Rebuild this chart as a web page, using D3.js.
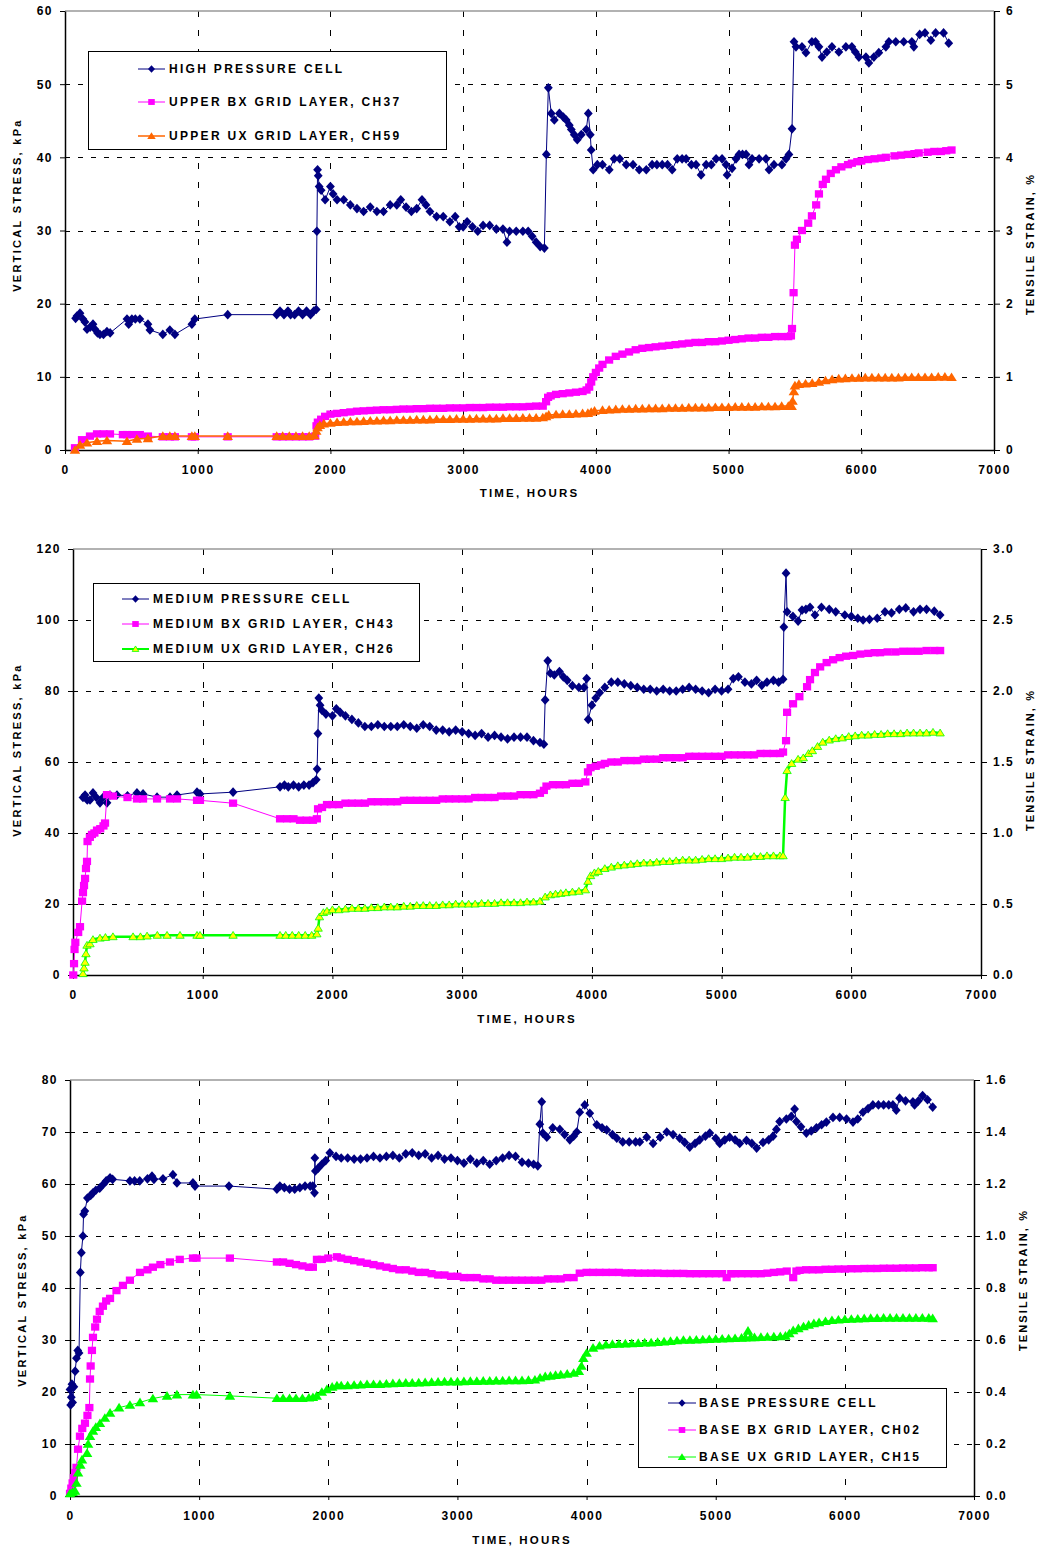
<!DOCTYPE html>
<html>
<head>
<meta charset="utf-8">
<script src="https://cdn.jsdelivr.net/npm/d3@7"></script>
<style>
body { margin: 0; background: #fff; }
svg text { font-family: "Liberation Sans", Arial, sans-serif; font-weight: bold; fill: #000; }
</style>
</head>
<body>
<svg id="chart" width="1039" height="1548"></svg>
<script>
// ---- data: [hours, value]; pressure cells in kPa, grid layers in % strain ----
const hourTicks = [0, 1000, 2000, 3000, 4000, 5000, 6000, 7000];

const stressTicks1 = [0, 10, 20, 30, 40, 50, 60];
const strainTicks1 = [0, 1, 2, 3, 4, 5, 6];
const stressTicks2 = [0, 20, 40, 60, 80, 100, 120];
const strainTicks2 = [0, 0.5, 1.0, 1.5, 2.0, 2.5, 3.0];
const stressTicks3 = [0, 10, 20, 30, 40, 50, 60, 70, 80];
const strainTicks3 = [0, 0.2, 0.4, 0.6, 0.8, 1.0, 1.2, 1.4, 1.6];

const legend1 = ["HIGH PRESSURE CELL", "UPPER BX GRID LAYER, CH37", "UPPER UX GRID LAYER, CH59"];
const legend2 = ["MEDIUM PRESSURE CELL", "MEDIUM BX GRID LAYER, CH43", "MEDIUM UX GRID LAYER, CH26"];
const legend3 = ["BASE PRESSURE CELL", "BASE BX GRID LAYER, CH02", "BASE UX GRID LAYER, CH15"];

const highCell = [[80,18.0],[90,18.3],[113,18.7],[135,17.9],[150,17.5],[166,16.5],[190,16.8],[211,17.2],[226,16.5],[245,16.0],[263,15.8],[290,15.8],[316,16.2],[340,16.0],
[467,17.9],[480,17.2],[504,17.9],[530,17.9],[564,17.9],[625,17.2],[640,16.4],[737,15.8],[790,16.4],[828,15.8],[956,17.2],[978,17.9],[1226,18.5],
[1595,18.5],[1620,19.0],[1650,18.5],[1680,19.0],[1700,18.5],[1730,18.5],[1760,19.0],[1790,18.5],[1820,19.0],[1850,18.5],[1875,19.0],[1893,19.2],
[1898,29.9],[1903,38.3],[1908,37.5],[1915,36.0],[1930,35.5],[1960,34.2],[2000,36.0],[2020,35.0],[2050,34.2],[2100,34.2],[2150,33.5],[2200,33.0],[2250,32.6],[2300,33.2],[2350,32.6],[2400,32.6],[2450,33.5],[2500,33.5],[2530,34.2],[2570,33.2],[2610,32.6],[2650,33.0],[2690,34.2],[2720,33.5],[2750,32.6],[2800,31.9],[2850,31.9],[2900,31.2],[2940,31.9],[2970,30.5],[3000,30.5],[3030,31.2],[3070,30.5],[3110,29.9],[3150,30.7],[3200,30.7],[3250,30.2],[3300,30.2],[3330,28.4],[3350,29.9],[3400,29.9],[3450,29.9],[3490,29.9],[3520,29.2],[3550,28.4],[3580,27.8],[3612,27.6],
[3627,40.4],[3642,49.5],[3664,46.0],[3687,45.1],[3725,46.0],[3755,45.5],[3777,45.1],[3800,44.4],[3815,43.8],[3837,43.1],[3860,42.4],[3890,43.1],[3928,43.8],[3943,46.0],[3958,43.1],[3965,41.0],[3980,38.3],[4011,39.0],[4050,39.0],[4101,38.3],[4138,39.8],[4180,39.8],[4229,39.0],[4280,39.0],[4327,38.3],[4380,38.3],[4424,39.0],[4460,39.0],[4500,39.0],[4540,39.0],[4575,38.3],[4613,39.8],[4650,39.8],[4680,39.8],[4720,39.0],[4755,39.0],[4793,37.6],[4831,39.0],[4870,39.0],[4906,39.8],[4951,39.8],[4981,39.0],[4989,37.6],[5026,38.5],[5056,39.8],[5079,40.4],[5105,40.4],[5132,40.4],[5154,39.0],[5177,39.8],[5230,39.8],[5282,39.8],[5305,38.3],[5342,39.0],[5402,39.0],[5433,39.8],[5455,40.4],
[5478,43.9],[5493,55.8],[5508,55.1],[5553,55.1],[5583,54.3],[5628,55.8],[5655,55.8],[5681,55.1],[5704,53.7],[5740,54.4],[5779,55.1],[5831,54.4],[5884,55.1],[5929,55.1],[5955,54.4],[5982,53.7],[6035,53.7],[6057,52.9],[6095,53.7],[6132,54.3],[6185,55.1],[6208,55.8],[6260,55.8],[6320,55.8],[6381,55.8],[6396,55.1],[6440,56.8],[6480,57.0],[6524,56.0],[6560,57.0],[6620,57.0],[6659,55.6]];

const upperBx = [[75,0.03],[128,0.14],[188,0.19],[241,0.22],[290,0.22],[339,0.22],[436,0.21],[467,0.21],[504,0.21],[564,0.21],[625,0.19],[737,0.18],[790,0.18],[828,0.18],[956,0.18],[978,0.18],[1226,0.18],
[1595,0.18],[1640,0.18],[1690,0.18],[1740,0.18],[1790,0.18],[1840,0.18],[1885,0.19],[1895,0.33],[1905,0.38],[1930,0.42],[1960,0.46],[2000,0.49],[2050,0.5],[2100,0.51],[2150,0.52],[2200,0.53],[2250,0.535],[2300,0.54],[2350,0.545],[2400,0.55],[2450,0.55],[2500,0.555],[2550,0.56],[2600,0.56],[2650,0.565],[2700,0.565],[2750,0.57],[2800,0.57],[2850,0.57],[2900,0.575],[2950,0.575],[3000,0.575],[3050,0.58],[3100,0.58],[3150,0.58],[3200,0.585],[3250,0.585],[3300,0.585],[3350,0.59],[3400,0.59],[3450,0.59],[3500,0.595],[3550,0.6],[3600,0.6],
[3625,0.66],[3640,0.72],[3660,0.74],[3700,0.76],[3750,0.77],[3800,0.78],[3850,0.79],[3900,0.8],[3930,0.82],[3950,0.86],[3965,0.93],[3980,1.0],[4000,1.06],[4025,1.12],[4050,1.17],[4100,1.23],[4150,1.28],[4200,1.31],[4250,1.34],[4300,1.37],[4350,1.39],[4400,1.4],[4450,1.41],[4500,1.42],[4550,1.43],[4600,1.44],[4650,1.45],[4700,1.46],[4750,1.47],[4800,1.47],[4850,1.48],[4900,1.48],[4950,1.49],[5000,1.5],[5050,1.51],[5100,1.52],[5150,1.53],[5200,1.53],[5250,1.54],[5300,1.54],[5350,1.55],[5400,1.55],[5450,1.55],[5470,1.56],
[5478,1.66],[5490,2.15],[5500,2.8],[5515,2.88],[5553,3.0],[5600,3.1],[5628,3.2],[5660,3.35],[5681,3.5],[5710,3.63],[5734,3.7],[5770,3.78],[5809,3.83],[5850,3.87],[5900,3.9],[5929,3.92],[5970,3.94],[6000,3.95],[6050,3.97],[6100,3.98],[6150,3.99],[6185,4.0],[6250,4.02],[6300,4.03],[6350,4.04],[6400,4.05],[6433,4.06],[6500,4.07],[6550,4.08],[6600,4.08],[6640,4.09],[6680,4.1]];

const upperUx = [[75,0.0],[113,0.07],[166,0.1],[241,0.12],[316,0.13],[467,0.12],[542,0.15],[625,0.16],[737,0.19],[790,0.19],[828,0.19],[956,0.19],[978,0.19],[1226,0.19],
[1595,0.19],[1640,0.19],[1690,0.19],[1740,0.19],[1790,0.19],[1840,0.19],[1880,0.2],[1893,0.26],[1903,0.31],[1920,0.34],[1950,0.36],[2000,0.37],[2050,0.38],[2100,0.385],[2150,0.39],[2200,0.39],[2250,0.395],[2300,0.4],[2350,0.4],[2400,0.405],[2450,0.405],[2500,0.41],[2550,0.41],[2600,0.41],[2650,0.415],[2700,0.415],[2750,0.415],[2800,0.42],[2850,0.42],[2900,0.42],[2950,0.425],[3000,0.425],[3050,0.425],[3100,0.43],[3150,0.43],[3200,0.43],[3250,0.43],[3300,0.435],[3350,0.435],[3400,0.435],[3450,0.44],[3500,0.44],[3550,0.44],[3600,0.445],
[3625,0.46],[3645,0.48],[3700,0.485],[3750,0.49],[3800,0.49],[3850,0.495],[3900,0.5],[3940,0.505],[3965,0.52],[3990,0.535],[4050,0.545],[4100,0.55],[4150,0.555],[4200,0.56],[4250,0.56],[4300,0.565],[4350,0.565],[4400,0.57],[4450,0.57],[4500,0.57],[4550,0.575],[4600,0.575],[4650,0.575],[4700,0.58],[4750,0.58],[4800,0.58],[4850,0.58],[4900,0.585],[4950,0.585],[5000,0.585],[5050,0.59],[5100,0.59],[5150,0.59],[5200,0.59],[5250,0.595],[5300,0.595],[5350,0.595],[5400,0.6],[5450,0.6],[5475,0.6],
[5482,0.67],[5492,0.8],[5500,0.88],[5530,0.9],[5580,0.905],[5630,0.915],[5680,0.93],[5730,0.95],[5780,0.965],[5830,0.975],[5880,0.98],[5930,0.985],[5980,0.985],[6030,0.99],[6080,0.99],[6130,0.99],[6180,0.99],[6230,0.99],[6280,0.99],[6330,0.995],[6380,0.995],[6430,0.995],[6480,0.995],[6530,0.995],[6580,1.0],[6630,1.0],[6680,0.995]];

const mediumCell = [[77,50.0],[93,50.7],[110,49.3],[131,49.3],[154,51.3],[180,50.0],[208,48.5],[231,50.0],[262,48.5],[285,50.7],[339,50.7],[420,50.5],[493,51.3],[540,51.0],[648,50.1],[748,50.1],[802,50.7],[956,51.5],[979,51.0],[1234,51.5],
[1596,53.0],[1630,53.5],[1660,53.0],[1700,53.5],[1740,53.0],[1780,53.5],[1820,53.5],[1850,54.2],[1875,55.0],[1882,58.0],[1888,68.0],[1895,78.0],[1905,76.0],[1920,74.5],[1950,73.5],[2000,73.0],[2030,75.0],[2060,74.0],[2100,73.0],[2150,72.0],[2200,71.0],[2250,70.0],[2300,70.0],[2350,70.5],[2400,70.0],[2450,70.0],[2500,70.0],[2550,70.5],[2600,70.0],[2650,69.5],[2700,70.5],[2750,70.0],[2800,69.0],[2850,69.0],[2900,68.5],[2950,69.0],[3000,68.5],[3050,68.0],[3100,67.5],[3150,68.0],[3200,67.0],[3250,67.5],[3300,67.0],[3350,66.5],[3400,67.0],[3450,67.0],[3500,67.0],[3550,66.0],[3600,65.5],[3630,65.0],
[3640,77.5],[3660,88.5],[3680,85.0],[3710,84.5],[3750,85.5],[3780,84.0],[3810,83.0],[3850,81.5],[3900,81.0],[3940,81.0],[3960,83.5],[3972,72.0],[4000,76.0],[4030,78.0],[4060,79.5],[4100,81.0],[4150,82.5],[4200,82.5],[4250,82.0],[4300,81.5],[4350,81.0],[4400,80.5],[4450,80.5],[4500,80.0],[4550,80.5],[4600,80.0],[4650,80.0],[4700,80.5],[4750,81.0],[4800,80.5],[4850,80.0],[4900,79.5],[4950,80.5],[5000,80.0],[5050,80.5],[5090,83.5],[5130,84.0],[5180,82.5],[5230,82.0],[5270,83.0],[5310,81.6],[5350,82.5],[5400,83.0],[5440,82.5],[5474,83.3],
[5480,98.0],[5497,113.2],[5505,102.3],[5550,101.0],[5590,99.7],[5620,102.8],[5650,103.0],[5682,103.6],[5720,101.4],[5770,103.6],[5830,103.0],[5880,102.3],[5950,101.4],[6000,101.0],[6050,100.5],[6091,100.0],[6140,100.2],[6200,100.5],[6260,102.3],[6310,102.0],[6370,103.0],[6420,103.4],[6480,102.3],[6530,103.0],[6580,103.0],[6640,102.5],[6685,101.4]];

const mediumBx = [[2,0.0],[8,0.08],[12,0.18],[18,0.23],[40,0.3],[54,0.34],[70,0.52],[77,0.58],[85,0.63],[93,0.68],[100,0.75],[108,0.8],[112,0.94],[130,0.97],[146,0.99],[165,1.0],[185,1.02],[210,1.03],[235,1.05],[247,1.07],[262,1.27],[308,1.26],[420,1.25],[493,1.24],[540,1.24],[648,1.24],[748,1.24],[802,1.24],[956,1.23],[979,1.23],[1234,1.21],
[1596,1.1],[1650,1.1],[1700,1.1],[1750,1.09],[1800,1.09],[1850,1.09],[1880,1.1],[1889,1.17],[1920,1.18],[1958,1.2],[2000,1.2],[2050,1.2],[2100,1.21],[2150,1.21],[2200,1.21],[2250,1.21],[2300,1.22],[2350,1.22],[2400,1.22],[2450,1.22],[2500,1.22],[2550,1.23],[2600,1.23],[2650,1.23],[2700,1.23],[2750,1.23],[2800,1.23],[2850,1.24],[2900,1.24],[2950,1.24],[3000,1.24],[3050,1.24],[3100,1.25],[3150,1.25],[3200,1.25],[3250,1.25],[3300,1.26],[3350,1.26],[3400,1.26],[3450,1.27],[3500,1.27],[3550,1.27],[3600,1.28],
[3630,1.3],[3650,1.33],[3700,1.34],[3750,1.34],[3800,1.34],[3850,1.35],[3900,1.35],[3950,1.36],[3970,1.43],[3990,1.46],[4030,1.47],[4070,1.48],[4100,1.49],[4150,1.5],[4200,1.5],[4250,1.51],[4300,1.51],[4350,1.51],[4400,1.52],[4450,1.52],[4500,1.52],[4550,1.53],[4600,1.53],[4650,1.53],[4700,1.53],[4750,1.54],[4800,1.54],[4850,1.54],[4900,1.54],[4950,1.54],[5000,1.54],[5050,1.55],[5100,1.55],[5150,1.55],[5200,1.55],[5250,1.55],[5300,1.56],[5350,1.56],[5400,1.56],[5450,1.56],[5474,1.57],
[5497,1.65],[5505,1.85],[5551,1.91],[5600,1.96],[5659,2.03],[5682,2.08],[5720,2.13],[5760,2.17],[5810,2.2],[5860,2.22],[5910,2.235],[5960,2.245],[6014,2.25],[6070,2.26],[6130,2.265],[6180,2.27],[6222,2.27],[6280,2.275],[6340,2.275],[6400,2.28],[6460,2.28],[6520,2.28],[6580,2.285],[6640,2.285],[6685,2.285]];

const mediumUx = [[77,0.01],[85,0.05],[93,0.09],[100,0.15],[108,0.21],[131,0.22],[154,0.25],[208,0.26],[250,0.265],[308,0.27],[463,0.27],[520,0.27],[571,0.275],[650,0.28],[725,0.28],[825,0.28],[956,0.28],[979,0.28],[1234,0.28],
[1596,0.28],[1640,0.28],[1690,0.28],[1740,0.28],[1790,0.28],[1840,0.28],[1880,0.29],[1890,0.33],[1900,0.41],[1930,0.44],[1958,0.45],[2000,0.46],[2050,0.46],[2100,0.465],[2150,0.47],[2200,0.47],[2250,0.47],[2300,0.475],[2350,0.475],[2400,0.48],[2450,0.48],[2500,0.48],[2550,0.485],[2600,0.485],[2650,0.49],[2700,0.49],[2750,0.49],[2800,0.49],[2850,0.495],[2900,0.495],[2950,0.5],[3000,0.5],[3050,0.5],[3100,0.5],[3150,0.505],[3200,0.505],[3250,0.505],[3300,0.51],[3350,0.51],[3400,0.51],[3450,0.51],[3500,0.515],[3550,0.515],[3600,0.52],
[3640,0.55],[3680,0.565],[3720,0.57],[3760,0.575],[3800,0.58],[3850,0.585],[3900,0.59],[3950,0.6],[3970,0.66],[3990,0.7],[4020,0.72],[4050,0.73],[4100,0.75],[4150,0.76],[4200,0.77],[4250,0.775],[4300,0.78],[4350,0.785],[4400,0.79],[4450,0.79],[4500,0.795],[4550,0.8],[4600,0.8],[4650,0.805],[4700,0.81],[4750,0.81],[4800,0.81],[4850,0.815],[4900,0.82],[4950,0.82],[5000,0.82],[5050,0.825],[5100,0.83],[5150,0.83],[5200,0.83],[5250,0.835],[5300,0.835],[5350,0.84],[5400,0.84],[5450,0.84],[5474,0.84],
[5490,1.25],[5505,1.44],[5540,1.49],[5590,1.52],[5630,1.53],[5670,1.56],[5700,1.58],[5740,1.61],[5780,1.64],[5830,1.655],[5880,1.665],[5930,1.67],[5980,1.68],[6030,1.685],[6080,1.69],[6130,1.69],[6180,1.695],[6230,1.695],[6280,1.7],[6330,1.7],[6380,1.7],[6430,1.705],[6480,1.705],[6530,1.705],[6580,1.705],[6630,1.71],[6685,1.705]];

const baseCell = [[0,20.5],[5,17.5],[10,19.0],[15,21.5],[20,18.0],[30,21.0],[40,24.0],[50,26.5],[60,28.0],[70,27.5],[80,43.0],[88,46.8],[100,50.0],[105,54.2],[115,54.8],[135,57.3],[160,57.8],[178,58.3],[200,58.8],[230,59.2],[260,60.0],[280,60.6],[310,61.2],[330,60.9],[464,60.6],[500,60.6],[540,60.6],[600,61.0],[635,61.5],[650,60.9],[720,61.0],[797,61.8],[828,60.2],[952,60.2],[968,59.6],[1231,59.6],
[1602,59.0],[1625,59.6],[1660,59.3],[1700,59.0],[1740,59.0],[1780,59.3],[1820,59.6],[1860,59.6],[1880,59.6],[1893,58.3],[1896,65.0],[1900,62.5],[1920,63.0],[1950,63.8],[1980,64.5],[2012,66.0],[2060,65.3],[2100,65.0],[2150,65.0],[2200,64.8],[2250,64.8],[2300,65.0],[2350,65.3],[2400,65.0],[2450,65.3],[2500,65.5],[2550,65.0],[2600,65.8],[2650,66.0],[2700,65.5],[2750,65.8],[2800,65.0],[2850,65.5],[2900,64.8],[2950,65.0],[3000,64.5],[3050,64.0],[3100,64.8],[3150,64.0],[3200,64.5],[3250,63.8],[3300,64.5],[3350,65.0],[3400,65.5],[3450,65.3],[3500,64.2],[3550,64.0],[3590,63.8],[3622,63.5],
[3638,71.5],[3653,75.8],[3661,69.8],[3692,69.0],[3738,70.8],[3793,70.5],[3830,69.5],[3870,68.5],[3900,69.2],[3924,70.0],[3947,73.8],[3986,75.2],[4025,73.6],[4079,71.4],[4120,70.8],[4156,70.4],[4200,69.5],[4234,68.8],[4280,68.1],[4330,68.1],[4380,68.1],[4412,68.1],[4466,69.0],[4515,67.8],[4570,69.0],[4621,70.0],[4670,69.5],[4721,68.8],[4760,68.0],[4799,67.1],[4840,67.8],[4876,68.5],[4920,69.2],[4954,69.8],[5000,68.8],[5031,67.8],[5070,68.5],[5108,69.0],[5150,68.5],[5186,67.8],[5238,68.4],[5280,67.8],[5317,66.9],[5366,68.0],[5410,68.5],[5444,69.2],[5470,70.5],
[5495,72.0],[5547,72.5],[5585,73.0],[5611,74.4],[5625,72.0],[5660,71.0],[5702,69.8],[5740,70.2],[5780,70.8],[5820,71.4],[5857,71.9],[5908,72.8],[5960,72.8],[6013,72.5],[6063,71.9],[6100,72.5],[6140,73.8],[6180,74.5],[6217,75.2],[6260,75.2],[6300,75.2],[6340,75.2],[6372,75.2],[6398,74.2],[6424,76.5],[6470,76.0],[6527,75.8],[6540,75.2],[6570,76.0],[6602,77.0],[6640,76.2],[6680,74.8]];

const baseBx = [[0,0.01],[10,0.03],[20,0.05],[30,0.07],[40,0.09],[50,0.11],[62,0.18],[77,0.23],[95,0.26],[116,0.28],[135,0.31],[150,0.34],[155,0.45],[160,0.5],[170,0.56],[178,0.61],[195,0.65],[209,0.68],[230,0.71],[255,0.73],[280,0.75],[310,0.76],[360,0.79],[410,0.81],[464,0.83],[542,0.86],[600,0.87],[642,0.88],[700,0.89],[774,0.9],[850,0.91],[952,0.915],[980,0.915],[1238,0.915],
[1602,0.9],[1650,0.9],[1700,0.895],[1750,0.89],[1800,0.885],[1850,0.88],[1881,0.88],[1912,0.91],[1950,0.91],[2000,0.915],[2067,0.92],[2100,0.915],[2150,0.91],[2200,0.905],[2250,0.9],[2300,0.895],[2350,0.89],[2400,0.885],[2450,0.88],[2500,0.875],[2550,0.87],[2600,0.87],[2650,0.865],[2700,0.86],[2750,0.86],[2800,0.855],[2850,0.85],[2900,0.85],[2950,0.845],[3000,0.845],[3050,0.84],[3100,0.84],[3150,0.84],[3200,0.835],[3250,0.835],[3300,0.83],[3350,0.83],[3400,0.83],[3450,0.83],[3500,0.83],[3550,0.83],[3600,0.83],[3650,0.83],[3700,0.835],[3750,0.835],[3800,0.835],[3850,0.84],[3900,0.84],
[3947,0.857],[4000,0.86],[4050,0.86],[4100,0.86],[4150,0.86],[4200,0.86],[4250,0.86],[4300,0.858],[4350,0.858],[4400,0.857],[4450,0.857],[4500,0.857],[4550,0.857],[4600,0.856],[4650,0.856],[4700,0.856],[4750,0.856],[4800,0.855],[4850,0.855],[4900,0.855],[4950,0.855],[5000,0.855],[5050,0.855],[5085,0.84],[5120,0.855],[5150,0.855],[5200,0.855],[5250,0.855],[5300,0.855],[5350,0.855],[5400,0.857],[5450,0.86],[5500,0.862],[5550,0.865],[5600,0.84],[5625,0.865],[5650,0.868],[5700,0.87],[5750,0.87],[5800,0.87],[5850,0.872],[5900,0.872],[5950,0.873],[6000,0.873],[6050,0.874],[6100,0.874],[6150,0.875],[6200,0.875],[6250,0.875],[6300,0.876],[6350,0.876],[6400,0.876],[6450,0.877],[6500,0.877],[6550,0.877],[6600,0.878],[6650,0.878],[6680,0.878]];

const baseUx = [[0,0.01],[20,0.015],[39,0.02],[50,0.05],[62,0.09],[80,0.12],[93,0.14],[132,0.165],[140,0.2],[155,0.23],[178,0.25],[200,0.265],[232,0.28],[270,0.3],[310,0.32],[380,0.34],[464,0.35],[542,0.36],[642,0.375],[751,0.385],[828,0.39],[952,0.39],[980,0.39],[1238,0.385],
[1602,0.376],[1650,0.376],[1700,0.376],[1750,0.376],[1800,0.376],[1850,0.378],[1881,0.38],[1910,0.385],[1950,0.4],[1989,0.41],[2030,0.42],[2067,0.425],[2100,0.425],[2150,0.425],[2200,0.427],[2250,0.428],[2300,0.43],[2350,0.43],[2400,0.43],[2450,0.432],[2500,0.433],[2550,0.434],[2600,0.435],[2650,0.435],[2700,0.436],[2750,0.437],[2800,0.438],[2850,0.439],[2900,0.44],[2950,0.44],[3000,0.44],[3050,0.441],[3100,0.442],[3150,0.442],[3200,0.443],[3250,0.443],[3300,0.444],[3350,0.444],[3400,0.445],[3450,0.445],[3500,0.445],[3550,0.446],[3600,0.447],
[3640,0.455],[3680,0.46],[3720,0.462],[3760,0.465],[3800,0.467],[3850,0.47],[3900,0.473],[3940,0.48],[3960,0.5],[3975,0.53],[4000,0.55],[4050,0.57],[4100,0.578],[4150,0.582],[4200,0.584],[4250,0.585],[4300,0.586],[4350,0.587],[4400,0.588],[4450,0.59],[4500,0.59],[4550,0.592],[4600,0.594],[4650,0.596],[4700,0.598],[4750,0.6],[4800,0.6],[4850,0.601],[4900,0.602],[4950,0.603],[5000,0.604],[5050,0.605],[5100,0.606],[5150,0.607],[5200,0.608],[5230,0.609],[5250,0.635],[5270,0.61],[5300,0.61],[5350,0.611],[5400,0.612],[5450,0.613],[5500,0.614],
[5540,0.616],[5570,0.625],[5600,0.637],[5640,0.645],[5680,0.652],[5720,0.658],[5760,0.664],[5800,0.668],[5850,0.672],[5900,0.676],[5950,0.678],[6000,0.68],[6050,0.681],[6100,0.682],[6150,0.683],[6200,0.684],[6250,0.684],[6300,0.685],[6350,0.685],[6400,0.685],[6450,0.685],[6500,0.685],[6550,0.685],[6600,0.685],[6650,0.685],[6680,0.683]];

// ---- marker shapes (size = half width in px) ----
const diamond = { draw(c, r) { c.moveTo(0, -r * 1.1); c.lineTo(r, 0); c.lineTo(0, r * 1.1); c.lineTo(-r, 0); c.closePath(); } };
const square = { draw(c, r) { c.rect(-r, -r * 0.9, 2 * r, 1.8 * r); } };
const triangle = { draw(c, r) { c.moveTo(0, -r); c.lineTo(r * 1.1, r * 0.8); c.lineTo(-r * 1.1, r * 0.8); c.closePath(); } };

const navy = { stroke: "#000080", fill: "#000080", shape: diamond, r: 4.4, lw: 1, axis: "L" };
const magenta = { stroke: "#ff00ff", fill: "#ff00ff", shape: square, r: 4.1, lw: 1, axis: "R" };
const orange = { stroke: "#ff6600", fill: "#ff6600", shape: triangle, r: 4.8, lw: 1.5, axis: "R" };
const greenOpen = { stroke: "#00ff00", fill: "#ffff00", mstroke: "#00ff00", shape: triangle, r: 3.8, lw: 2.5, axis: "R" };
const greenSolid = { stroke: "#00ff00", fill: "#00ff00", shape: triangle, r: 4.8, lw: 1, axis: "R" };

const svg = d3.select("#chart");

function drawPanel(p) {
  const x = d3.scaleLinear().domain([0, 7000]).range([p.left, p.right]);
  const yL = d3.scaleLinear().domain([0, p.leftTicks[p.leftTicks.length - 1]]).range([p.bottom, p.top]);
  const yR = d3.scaleLinear().domain([0, p.rightTicks[p.rightTicks.length - 1]]).range([p.bottom, p.top]);
  const g = svg.append("g");

  // dashed grid
  g.append("g").selectAll("line").data(p.leftTicks.slice(1, -1)).join("line")
    .attr("x1", p.left).attr("x2", p.right)
    .attr("y1", d => Math.round(yL(d)) + 0.5).attr("y2", d => Math.round(yL(d)) + 0.5)
    .attr("stroke", "#000").attr("stroke-dasharray", "5,8");
  g.append("g").selectAll("line").data(hourTicks.slice(1, -1)).join("line")
    .attr("x1", d => Math.round(x(d)) + 0.5).attr("x2", d => Math.round(x(d)) + 0.5)
    .attr("y1", p.top).attr("y2", p.bottom)
    .attr("stroke", "#000").attr("stroke-dasharray", "6,13");
  g.append("line").attr("x1", p.left).attr("x2", p.right).attr("y1", p.top).attr("y2", p.top)
    .attr("stroke", "#999").attr("stroke-width", 1.5);

  // axes
  const styleAxis = sel => {
    sel.attr("font-family", null).attr("font-size", null);
    sel.select(".domain").attr("stroke", "#000").attr("stroke-width", 1.5);
    sel.selectAll("text").style("font-size", "12px").style("letter-spacing", "1.5px");
  };
  g.append("g").attr("transform", `translate(${p.left},0)`)
    .call(d3.axisLeft(yL).tickValues(p.leftTicks).tickSize(5).tickSizeOuter(0).tickPadding(7).tickFormat(d3.format("d")))
    .call(styleAxis);
  g.append("g").attr("transform", `translate(${p.right},0)`)
    .call(d3.axisRight(yR).tickValues(p.rightTicks).tickSize(6).tickSizeOuter(0).tickPadding(6).tickFormat(d3.format(p.rightFormat)))
    .call(styleAxis);
  g.append("g").attr("transform", `translate(0,${p.bottom})`)
    .call(d3.axisBottom(x).tickValues(hourTicks).tickSize(4).tickSizeOuter(0).tickPadding(11).tickFormat(d3.format("d")))
    .call(styleAxis);

  // series
  p.series.forEach(s => {
    const ys = s.style.axis === "L" ? yL : yR;
    g.append("path").datum(s.data)
      .attr("d", d3.line().x(d => x(d[0])).y(d => ys(d[1])))
      .attr("fill", "none").attr("stroke", s.style.stroke).attr("stroke-width", s.style.lw);
    const sym = d3.symbol().type(s.style.shape).size(s.style.r);
    g.append("g").selectAll("path").data(s.data).join("path")
      .attr("transform", d => `translate(${x(d[0])},${ys(d[1])})`)
      .attr("d", sym)
      .attr("fill", s.style.fill)
      .attr("stroke", s.style.mstroke || "none").attr("stroke-width", 0.8);
  });

  // legend
  const L = p.legend;
  g.append("rect").attr("x", L.x + 0.5).attr("y", L.y + 0.5).attr("width", L.w).attr("height", L.h)
    .attr("fill", "#fff").attr("stroke", "#000").attr("stroke-width", 1);
  p.series.forEach((s, i) => {
    const yy = L.rows[i];
    g.append("line").attr("x1", L.x1).attr("x2", L.x2).attr("y1", yy).attr("y2", yy)
      .attr("stroke", s.style.stroke).attr("stroke-width", Math.min(s.style.lw, 2));
    g.append("path").attr("transform", `translate(${(L.x1 + L.x2) / 2},${yy})`)
      .attr("d", d3.symbol().type(s.style.shape).size(s.style.r * 0.8))
      .attr("fill", s.style.fill).attr("stroke", s.style.mstroke || "none").attr("stroke-width", 0.8);
    g.append("text").attr("x", L.tx).attr("y", yy).attr("dy", "0.36em")
      .style("font-size", "12px").style("letter-spacing", "2.3px").text(p.names[i]);
  });

  // titles
  g.append("text").attr("x", (p.left + p.right) / 2).attr("y", p.xTitleY).attr("text-anchor", "middle")
    .style("font-size", "11.5px").style("letter-spacing", "2.2px").text("TIME, HOURS");
  g.append("text").attr("transform", `translate(${p.lTitle[0]},${p.lTitle[1]}) rotate(-90)`)
    .attr("text-anchor", "middle").attr("dy", "0.36em")
    .style("font-size", "11px").style("letter-spacing", "2.3px").text("VERTICAL STRESS, kPa");
  g.append("text").attr("transform", `translate(${p.rTitle[0]},${p.rTitle[1]}) rotate(-90)`)
    .attr("text-anchor", "middle").attr("dy", "0.36em")
    .style("font-size", "11px").style("letter-spacing", "2.1px").text("TENSILE STRAIN, %");
}

drawPanel({
  top: 11, bottom: 450, left: 65, right: 994,
  leftTicks: stressTicks1, rightTicks: strainTicks1, rightFormat: "d",
  series: [{ data: highCell, style: navy }, { data: upperBx, style: magenta }, { data: upperUx, style: orange }],
  names: legend1,
  legend: { x: 88, y: 51, w: 358, h: 98, rows: [69, 102, 136], x1: 138, x2: 165, tx: 169 },
  xTitleY: 497, lTitle: [17, 205], rTitle: [1030, 244]
});

drawPanel({
  top: 549, bottom: 975, left: 73, right: 981,
  leftTicks: stressTicks2, rightTicks: strainTicks2, rightFormat: ".1f",
  series: [{ data: mediumCell, style: navy }, { data: mediumBx, style: magenta }, { data: mediumUx, style: greenOpen }],
  names: legend2,
  legend: { x: 93, y: 583, w: 326, h: 78, rows: [599, 624, 649], x1: 122, x2: 149, tx: 153 },
  xTitleY: 1023, lTitle: [17, 750], rTitle: [1030, 760]
});

drawPanel({
  top: 1080, bottom: 1496, left: 70, right: 974,
  leftTicks: stressTicks3, rightTicks: strainTicks3, rightFormat: ".1f",
  series: [{ data: baseCell, style: navy }, { data: baseBx, style: magenta }, { data: baseUx, style: greenSolid }],
  names: legend3,
  legend: { x: 638, y: 1388, w: 308, h: 79, rows: [1403, 1430, 1457], x1: 668, x2: 696, tx: 699 },
  xTitleY: 1544, lTitle: [22, 1300], rTitle: [1023, 1280]
});
</script>
</body>
</html>
